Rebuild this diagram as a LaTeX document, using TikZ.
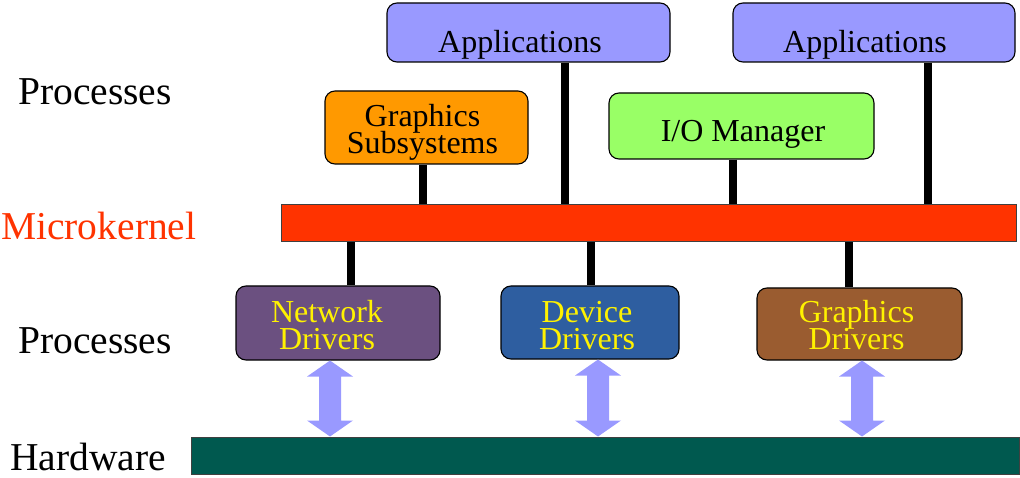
\documentclass[tikz,border=0pt]{standalone}
\usepackage{fontspec}
\setmainfont{Liberation Serif}
\newfontfamily\tnr{Liberation Serif}
\usetikzlibrary{calc}
\definecolor{appc}{HTML}{9999FF}
\definecolor{gsc}{HTML}{FF9900}
\definecolor{ioc}{HTML}{99FF66}
\definecolor{mkc}{HTML}{FF3300}
\definecolor{ndc}{HTML}{6B5080}
\definecolor{ddc}{HTML}{2E5EA0}
\definecolor{gdc}{HTML}{9A5C30}
\definecolor{hwc}{HTML}{00594F}
\definecolor{arrc}{HTML}{9999FF}
% text placed with its last baseline at (centre.x+dx, centre.y+dy)
\newcommand\placed[3]{\makebox[0pt]{\kern#1\relax\raisebox{#2}[0pt][0pt]{#3}\kern-#1\relax}}
\newcommand\twolines[2]{\vbox{\baselineskip=27pt\lineskiplimit=-100pt\halign{\hfil##\hfil\cr#1\cr#2\cr}}}
\tikzset{
  box/.style={draw=black, line width=1.1pt, rounded corners=10pt, inner sep=0pt,
    font=\tnr\fontsize{32}{27}\selectfont},
  drv/.style={box, text=yellow},
  bar/.style={draw=black!75, line width=1pt, inner sep=0pt},
  side/.style={inner sep=0pt, anchor=base west, font=\tnr\fontsize{39.5}{40}\selectfont},
  conn/.style={line width=7.5pt},
  dbl/.style={fill=arrc}
}
\newcommand{\dblarr}[3]{%
  \fill[dbl] let \p1=([xshift=#3]#1.south), \p2=([xshift=#3]#1.south |- #2.north) in
    (\x1,\y1) -- (\x1+23pt,\y1-16pt) -- (\x1+11pt,\y1-16pt) -- (\x1+11pt,\y2+16pt)
    -- (\x1+23pt,\y2+16pt) -- (\x2,\y2) -- (\x1-23pt,\y2+16pt) -- (\x1-11pt,\y2+16pt)
    -- (\x1-11pt,\y1-16pt) -- (\x1-23pt,\y1-16pt) -- cycle;}
\begin{document}
\begin{tikzpicture}[x=1pt,y=-1pt]
\useasboundingbox (0,0) rectangle (1020,478);
% side labels
\node[side] (p1) at (18,105) {Processes};
\node[side, text=mkc] (mkl) at (1,240) {Microkernel};
\node[side] (p2) at (18,353) {Processes};
\node[side] (hwl) at (10,470) {Hardware};
% upper boxes
\node[box, fill=appc, minimum width=283pt, minimum height=59pt] (app1) at (528.5,32.5) {\placed{-8.5pt}{-20.5pt}{Applications}};
\node[box, fill=appc, minimum width=282pt, minimum height=59pt] (app2) at (874,32.5) {\placed{-9pt}{-20.5pt}{Applications}};
\node[box, fill=gsc, minimum width=203pt, minimum height=73pt] (gs) at (426.5,127.5) {\placed{-4pt}{-26pt}{\twolines{Graphics}{Subsystems}}};
\node[box, fill=ioc, minimum width=265pt, minimum height=66pt] (io) at (741.5,126) {\placed{1.5pt}{-16pt}{I/O Manager}};
% bars
\node[bar, fill=mkc, minimum width=735pt, minimum height=37pt] (mk) at (648.5,223.5) {};
\node[bar, fill=hwc, minimum width=828pt, minimum height=37pt] (hw) at (605,455.5) {};
% drivers
\node[drv, fill=ndc, minimum width=204pt, minimum height=74pt] (nd) at (338,323) {\placed{-11pt}{-26.5pt}{\twolines{Network}{Drivers}}};
\node[drv, fill=ddc, minimum width=178pt, minimum height=73pt] (dd) at (590,322.5) {\placed{-3pt}{-27pt}{\twolines{Device}{Drivers}}};
\node[drv, fill=gdc, minimum width=205pt, minimum height=72pt] (gd) at (859.5,324) {\placed{-3pt}{-25.5pt}{\twolines{Graphics}{Drivers}}};
% connectors
\draw[conn] ([xshift=-3.5pt]gs.south) -- ([xshift=-3.5pt]gs.south |- mk.north);
\draw[conn] ([xshift=36.5pt]app1.south) -- ([xshift=36.5pt]app1.south |- mk.north);
\draw[conn] ([xshift=-8.5pt]io.south) -- ([xshift=-8.5pt]io.south |- mk.north);
\draw[conn] ([xshift=54pt]app2.south) -- ([xshift=54pt]app2.south |- mk.north);
\draw[conn] ([xshift=13pt]nd.north |- mk.south) -- ([xshift=13pt]nd.north);
\draw[conn] ([xshift=1pt]dd.north |- mk.south) -- ([xshift=1pt]dd.north);
\draw[conn] ([xshift=-10.5pt]gd.north |- mk.south) -- ([xshift=-10.5pt]gd.north);
% double arrows
\dblarr{nd}{hw}{-8pt}
\dblarr{dd}{hw}{8pt}
\dblarr{gd}{hw}{2.5pt}
\end{tikzpicture}
\end{document}
